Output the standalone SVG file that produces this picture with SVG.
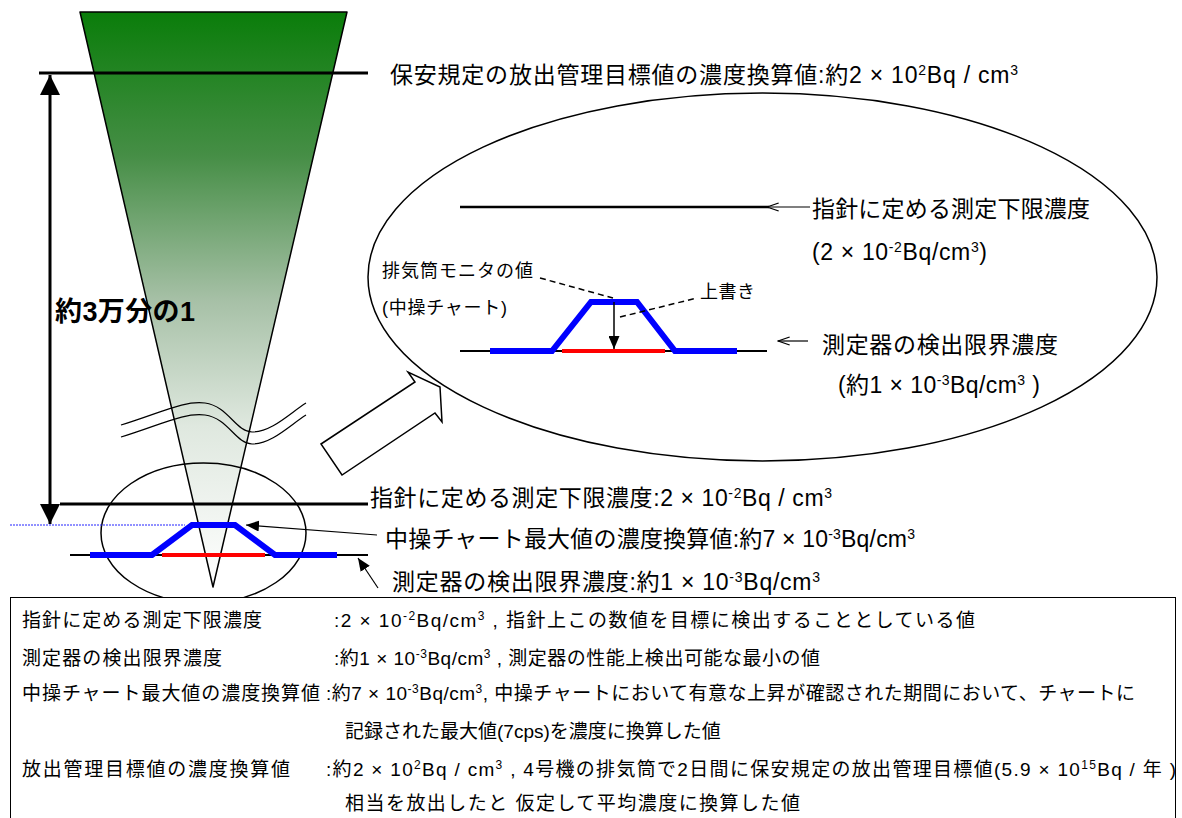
<svg xmlns="http://www.w3.org/2000/svg" width="1182" height="818" viewBox="0 0 1182 818">
<defs>
<linearGradient id="funnelGrad" x1="0" y1="12" x2="0" y2="587" gradientUnits="userSpaceOnUse">
<stop offset="0" stop-color="#0a7d0a"/>
<stop offset="0.25" stop-color="#468e46"/>
<stop offset="0.5" stop-color="#a6c0a6"/>
<stop offset="0.72" stop-color="#dfe8df"/>
<stop offset="1" stop-color="#ffffff"/>
</linearGradient>
<marker id="ahBig" viewBox="0 0 10 10" refX="10" refY="5" markerUnits="userSpaceOnUse" markerWidth="20" markerHeight="20" orient="auto-start-reverse">
<path d="M0,0 L10,5 L0,10 z" fill="#000"/>
</marker>
<marker id="ah" viewBox="0 0 10 10" refX="10" refY="5" markerUnits="userSpaceOnUse" markerWidth="13" markerHeight="11" orient="auto" preserveAspectRatio="none">
<path d="M0,0 L10,5 L0,10 z" fill="#000"/>
</marker>
<marker id="ahOpen" viewBox="0 0 12 10" refX="11" refY="5" markerUnits="userSpaceOnUse" markerWidth="14" markerHeight="10" orient="auto" preserveAspectRatio="none">
<path d="M1,1 L11,5 L1,9" fill="none" stroke="#000" stroke-width="1.2"/>
</marker>
<style>
text{font-family:"Liberation Sans","Noto Sans CJK JP",sans-serif;fill:#000}
.lbl{font-size:23px}
.big{font-size:23px}
.sm{font-size:18px}
.box{font-size:19px}
.bold{font-weight:bold;font-size:27px}
.ln{stroke:#000;fill:none}
.blue{stroke:#0000ff;stroke-width:6;fill:none;stroke-linejoin:miter}
.red{stroke:#ff0000;stroke-width:4}
.dash{stroke:#000;stroke-width:1.5;stroke-dasharray:6 4;fill:none}
</style>
</defs>

<g id="funnel">
<polygon points="80,12 347,12 213,587" fill="url(#funnelGrad)" stroke="#000" stroke-width="1.5" stroke-linejoin="round"/>
</g>

<g id="break-mark">
<path class="ln" stroke-width="1.2" d="M121,425 C160,413 185,400 205,403 C228,406 236,432 252,432 C272,432 290,413 306,403"/>
<path class="ln" stroke-width="1.2" d="M121,437 C160,425 185,412 205,415 C228,418 236,444 252,444 C272,444 290,425 306,415"/>
</g>

<g id="target-line">
<line x1="39" y1="73" x2="368" y2="73" stroke="#000" stroke-width="3"/>
<text class="lbl" x="390" y="83" textLength="628" lengthAdjust="spacing">保安規定の放出管理目標値の濃度換算値:約2 × 10<tspan dy="-8" font-size="14">2</tspan><tspan dy="8">Bq / cm</tspan><tspan dy="-8" font-size="14">3</tspan></text>
</g>

<g id="ratio">
<text class="bold" x="55" y="321" textLength="140" lengthAdjust="spacing">約3万分の1</text>
</g>

<g id="small-ellipse">
<ellipse cx="203.5" cy="533" rx="102.5" ry="70" fill="none" stroke="#000" stroke-width="1.5"/>
</g>

<g id="guide-line">
<line x1="60" y1="504" x2="368" y2="504" stroke="#000" stroke-width="3"/>
<text class="lbl" x="370" y="506" textLength="462" lengthAdjust="spacing">指針に定める測定下限濃度:2 × 10<tspan dy="-8" font-size="14">-2</tspan><tspan dy="8">Bq / cm</tspan><tspan dy="-8" font-size="14">3</tspan></text>
</g>

<g id="dotted-level">
<line x1="10" y1="525" x2="185" y2="525" stroke="#2222ff" stroke-width="1" stroke-dasharray="2 1"/>
</g>

<g id="small-chart">
<line x1="70" y1="555" x2="368" y2="555" stroke="#000" stroke-width="2"/>
<polyline class="blue" points="90,555 152,555 192,525 235,525 275,555 337,555"/>
<line class="red" x1="162" y1="555" x2="265" y2="555"/>
</g>

<g id="max-label">
<text class="lbl" x="385" y="547" textLength="530" lengthAdjust="spacing">中操チャート最大値の濃度換算値:約7 × 10<tspan dy="-8" font-size="14">-3</tspan><tspan dy="8">Bq/cm</tspan><tspan dy="-8" font-size="14">3</tspan></text>
</g>

<g id="detect-label">
<text class="lbl" x="392" y="590" textLength="428" lengthAdjust="spacing">測定器の検出限界濃度:約1 × 10<tspan dy="-8" font-size="14">-3</tspan><tspan dy="8">Bq/cm</tspan><tspan dy="-8" font-size="14">3</tspan></text>
</g>

<g id="zoom-arrow">
<polygon points="321,444 415,382 408,372 440,387 442,422 435,413 342,475" fill="#fff" stroke="#000" stroke-width="1.5" stroke-linejoin="miter"/>
</g>

<g id="big-ellipse">
<ellipse cx="762.5" cy="277" rx="394.5" ry="184" fill="none" stroke="#000" stroke-width="1.5"/>
</g>

<g id="inner-guide">
<line x1="460" y1="207" x2="769" y2="207" stroke="#000" stroke-width="2.5"/>
<text class="big" x="812" y="217" textLength="278" lengthAdjust="spacing">指針に定める測定下限濃度</text>
<text class="lbl" x="812" y="260" textLength="175" lengthAdjust="spacing">(2 × 10<tspan dy="-8" font-size="14">-2</tspan><tspan dy="8">Bq/cm</tspan><tspan dy="-8" font-size="14">3</tspan><tspan dy="8">)</tspan></text>
</g>

<g id="inner-chart">
<line x1="460" y1="351" x2="767" y2="351" stroke="#000" stroke-width="2"/>
<polyline class="blue" points="490,351 552,351 591,302 637,302 675,351 737,351"/>
<line class="red" x1="562" y1="351" x2="665" y2="351"/>
</g>

<g id="monitor-label">
<text class="sm" x="382" y="277" textLength="151" lengthAdjust="spacing">排気筒モニタの値</text>
<text class="sm" x="382" y="314" textLength="125" lengthAdjust="spacing">(中操チャート)</text>
</g>

<g id="overwrite-label">
<text class="sm" x="700" y="298" textLength="55" lengthAdjust="spacing">上書き</text>
</g>

<g id="inner-detect">
<text class="big" x="822" y="353" textLength="236" lengthAdjust="spacing">測定器の検出限界濃度</text>
<text class="lbl" x="838" y="393" textLength="202" lengthAdjust="spacing">(約1 × 10<tspan dy="-8" font-size="14">-3</tspan><tspan dy="8">Bq/cm</tspan><tspan dy="-8" font-size="14">3</tspan><tspan dy="8"> )</tspan></text>
</g>

<g id="legend-box">
<rect x="10.5" y="597.5" width="1165" height="230" fill="#fff" stroke="#000" stroke-width="1"/>
<text class="box" x="22" y="627" textLength="240" lengthAdjust="spacing">指針に定める測定下限濃度</text>
<text class="box" x="334" y="627" textLength="641" lengthAdjust="spacing">:2 × 10<tspan dy="-7" font-size="12">-2</tspan><tspan dy="7">Bq/cm</tspan><tspan dy="-7" font-size="12">3</tspan><tspan dy="7"> , 指針上この数値を目標に検出することとしている値</tspan></text>
<text class="box" x="22" y="665" textLength="200" lengthAdjust="spacing">測定器の検出限界濃度</text>
<text class="box" x="334" y="665" textLength="486" lengthAdjust="spacing">:約1 × 10<tspan dy="-7" font-size="12">-3</tspan><tspan dy="7">Bq/cm</tspan><tspan dy="-7" font-size="12">3</tspan><tspan dy="7"> , 測定器の性能上検出可能な最小の値</tspan></text>
<text class="box" x="22" y="700" textLength="298" lengthAdjust="spacing">中操チャート最大値の濃度換算値</text>
<text class="box" x="326" y="700" textLength="809" lengthAdjust="spacing">:約7 × 10<tspan dy="-7" font-size="12">-3</tspan><tspan dy="7">Bq/cm</tspan><tspan dy="-7" font-size="12">3</tspan><tspan dy="7">, 中操チャートにおいて有意な上昇が確認された期間において、チャートに</tspan></text>
<text class="box" x="345" y="738">記録された最大値(7cps)を濃度に換算した値</text>
<text class="box" x="22" y="776" textLength="268" lengthAdjust="spacing">放出管理目標値の濃度換算値</text>
<text class="box" x="326" y="776" textLength="850" lengthAdjust="spacing">:約2 × 10<tspan dy="-7" font-size="12">2</tspan><tspan dy="7">Bq / cm</tspan><tspan dy="-7" font-size="12">3</tspan><tspan dy="7"> , 4号機の排気筒で2日間に保安規定の放出管理目標値(5.9 × 10</tspan><tspan dy="-7" font-size="12">15</tspan><tspan dy="7">Bq / 年 )</tspan></text>
<text class="box" x="345" y="810" textLength="455" lengthAdjust="spacing">相当を放出したと 仮定して平均濃度に換算した値</text>
</g>

<g id="connectors">
<line x1="50" y1="75" x2="50" y2="524" stroke="#000" stroke-width="3" marker-start="url(#ahBig)" marker-end="url(#ahBig)"/>
<line x1="377" y1="535" x2="246" y2="525" stroke="#000" stroke-width="1.2" marker-end="url(#ah)"/>
<line x1="378" y1="588" x2="358" y2="558" stroke="#000" stroke-width="1.2" marker-end="url(#ah)"/>
<line x1="810" y1="207" x2="767" y2="207" stroke="#000" stroke-width="1.2" marker-end="url(#ahOpen)"/>
<line x1="808" y1="341" x2="778" y2="341" stroke="#000" stroke-width="1.2" marker-end="url(#ahOpen)"/>
<line x1="614" y1="302" x2="614" y2="349" stroke="#000" stroke-width="1.5" marker-end="url(#ah)"/>
<line class="dash" x1="540" y1="278" x2="613" y2="298"/>
<line class="dash" x1="620" y1="317" x2="697" y2="298"/>
</g>
</svg>
